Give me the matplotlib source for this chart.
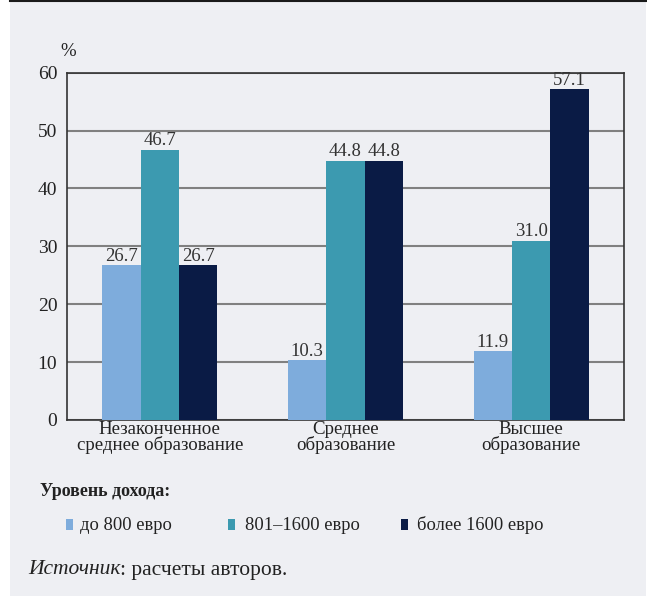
import matplotlib
matplotlib.use("Agg")
import matplotlib.pyplot as plt
from matplotlib.patches import Rectangle
from matplotlib.lines import Line2D
import numpy as np

plt.rcParams['font.family'] = ['Liberation Serif', 'DejaVu Serif']

categories = ["Незаконченное\nсреднее образование", "Среднее\nобразование", "Высшее\nобразование"]
series_names = ["до 800 евро", "801–1600 евро", "более 1600 евро"]
low = [26.7, 10.3, 11.9]
mid = [46.7, 44.8, 31.0]
high = [26.7, 44.8, 57.1]
yticks = [0, 10, 20, 30, 40, 50, 60]
legend_title = "Уровень дохода:"
source_label = "Источник"
source_rest = ": расчеты авторов."

colors = ["#7eacdc", "#3c9ab0", "#0a1b45"]
bg = "#eeeff3"
txt = "#222222"
W, H = 647, 596

fig = plt.figure(figsize=(W/100, H/100), dpi=100, facecolor="white")
fig.add_artist(Rectangle((10/W, 0), 636/W, 1, transform=fig.transFigure,
                         facecolor=bg, edgecolor="none", zorder=-10))
fig.add_artist(Line2D([10/W, 646/W], [1-1/H, 1-1/H], transform=fig.transFigure,
                      color="#1a1a1a", lw=1.5))

ax = fig.add_axes([67/W, 1-420/H, 557/W, 347.3/H])
ax.set_facecolor(bg)

x = np.arange(len(categories))
bw = 0.207
series = [low, mid, high]
for i, (vals, c) in enumerate(zip(series, colors)):
    pos = x + (i-1)*bw
    ax.bar(pos, vals, width=bw, color=c, edgecolor="none", zorder=3, label=series_names[i])
    for p, v in zip(pos, vals):
        ax.text(p, v+0.1, f"{v:.1f}", ha="center", va="bottom", fontsize=13.5, color="#333333", zorder=4)

ax.set_xlim(-0.5, 2.5)
ax.set_ylim(0, 60)
ax.set_yticks(yticks)
ax.set_yticklabels([str(t) for t in yticks], fontsize=14, color=txt)
ax.set_xticks(x)
ax.set_xticklabels(categories, fontsize=13.6, color=txt, linespacing=0.8)
ax.tick_params(axis="both", length=0)
ax.tick_params(axis="y", pad=7)
ax.tick_params(axis="x", pad=1)
ax.yaxis.grid(True, color="#808080", lw=1.5, zorder=1)
ax.set_axisbelow(True)
for s in ax.spines.values():
    s.set_color("#333333")
    s.set_linewidth(1.2)

fig.text(68/W, 1-52/H, "%", ha="center", va="center", fontsize=13.5, color=txt)

fig.text(40/W, 1-492/H, legend_title, ha="left", va="center", fontsize=13,
         fontweight="bold", color=txt)
sq_x = [66, 228, 401]
tx_x = [80, 245, 417]
for sx, tx, c, name in zip(sq_x, tx_x, colors, series_names):
    fig.add_artist(Rectangle((sx/W, 1-530/H), 7/W, 11/H, transform=fig.transFigure,
                             facecolor=c, edgecolor="none"))
    fig.text(tx/W, 1-525/H, name, ha="left", va="center", fontsize=13.3, color=txt)

t = fig.text(28/W, 1-570/H, source_label, ha="left", va="center", fontsize=15.5,
             style="italic", color=txt)
fig.canvas.draw()
bb = t.get_window_extent()
fig.text(bb.x1/W, 1-570/H, source_rest, ha="left", va="center", fontsize=15.5, color=txt)

fig.savefig("out.png", dpi=100, facecolor="white")
